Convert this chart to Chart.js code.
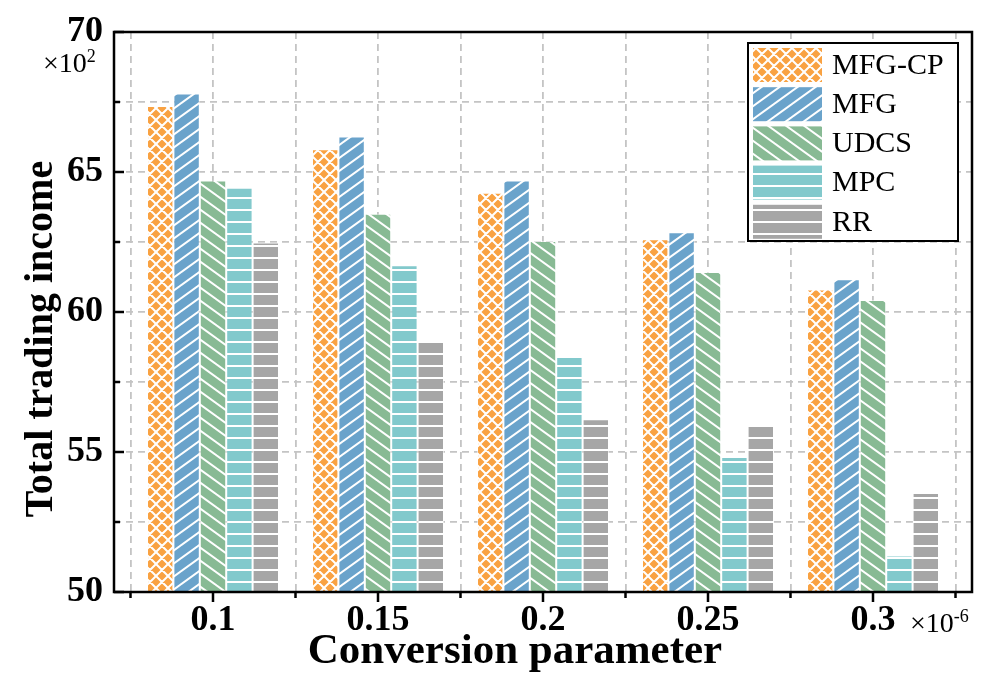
<!DOCTYPE html>
<html>
<head>
<meta charset="utf-8">
<script src="https://cdn.jsdelivr.net/npm/chart.js@4"></script>
<style>
  body { margin: 0; background: #fff; }
</style>
</head>
<body>
<canvas id="chart" width="986" height="678"></canvas>
<script>
const categories = ["0.1", "0.15", "0.2", "0.25", "0.3"];
const seriesNames = ["MFG-CP", "MFG", "UDCS", "MPC", "RR"];
const mfgcp = [67.36, 65.81, 64.26, 62.60, 60.80];
const mfg = [67.80, 66.27, 64.70, 62.85, 61.17];
const udcs = [64.70, 63.51, 62.54, 61.43, 60.43];
const mpc = [64.44, 61.67, 58.39, 54.82, 51.30];
const rr = [62.48, 58.96, 56.17, 55.95, 53.54];
const yTicks = [50, 55, 60, 65, 70];

const colors = ["#f9a242", "#6aa3cb", "#88ba94", "#82c9cc", "#a6a6a6"];
const kinds = ["cross", "fwd", "back", "horiz", "horiz"];
const serif = '"Liberation Serif", "Times New Roman", serif';

let ctx = document.getElementById("chart").getContext("2d");

function makePattern(color, kind) {
    let c = document.createElement("canvas");
    let w = 12, h = 12;
    if (kind == "fwd" || kind == "back") { w = 18; h = 13; }
    c.width = w; c.height = h;
    let g = c.getContext("2d");
    g.fillStyle = color;
    g.fillRect(0, 0, w, h);
    g.strokeStyle = "#fff";
    g.lineWidth = 2;
    g.beginPath();
    if (kind == "cross" || kind == "fwd") {
        for (let k = -1; k <= 1; k++) {
            g.moveTo(-1 + k * w, h + h / w);
            g.lineTo(w + 1 + k * w, -h / w);
        }
    }
    if (kind == "cross" || kind == "back") {
        for (let k = -1; k <= 1; k++) {
            g.moveTo(-1 + k * w, -h / w);
            g.lineTo(w + 1 + k * w, h + h / w);
        }
    }
    if (kind == "horiz") {
        g.moveTo(0, h / 2);
        g.lineTo(w, h / 2);
    }
    g.stroke();
    return ctx.createPattern(c, "repeat");
}

const patterns = colors.map((c, i) => makePattern(c, kinds[i]));
const allSeries = [mfgcp, mfg, udcs, mpc, rr];

const xTickValues = [];
for (let v = -0.5; v <= 4.5; v += 0.5) xTickValues.push(v);

function expLabel(c, base, sup, x, y) {
    c.font = "28px " + serif;
    c.fillText(base, x, y);
    let w = c.measureText(base).width;
    c.font = "18px " + serif;
    c.fillText(sup, x + w, y - 10);
}

// frame, inner ticks, titles, legend and exponent labels
const framePlugin = {
    id: "frame",
    afterDraw(chart) {
        const c = chart.ctx;
        const a = chart.chartArea;
        const xs = chart.scales.x, ys = chart.scales.y;
        c.save();
        c.strokeStyle = "#000";
        c.lineWidth = 2.5;
        c.strokeRect(a.left, a.top, a.right - a.left, a.bottom - a.top);
        c.beginPath();
        for (let v = 50; v <= 70; v += 2.5) {
            let y = ys.getPixelForValue(v);
            let len = (v % 5 == 0) ? 10 : 6;
            c.moveTo(a.left, y);
            c.lineTo(a.left + len, y);
        }
        xTickValues.forEach(v => {
            let x = xs.getPixelForValue(v);
            let len = Number.isInteger(v) ? 10 : 6;
            c.moveTo(x, a.bottom);
            c.lineTo(x, a.bottom + len);
        });
        c.stroke();

        // axis titles
        c.fillStyle = "#000";
        c.textAlign = "center";
        c.textBaseline = "middle";
        c.font = "bold 43px " + serif;
        c.fillText("Conversion parameter", 515, 652);
        c.save();
        c.translate(42, 339);
        c.rotate(-Math.PI / 2);
        c.font = "bold 40px " + serif;
        c.fillText("Total trading income", 0, 0);
        c.restore();

        // legend
        let lx = 748, ly = 43, lw = 210, lh = 198;
        c.fillStyle = "#fff";
        c.fillRect(lx, ly, lw, lh);
        c.lineWidth = 2;
        c.strokeRect(lx, ly, lw, lh);
        c.font = "30px " + serif;
        c.textAlign = "left";
        seriesNames.forEach((name, i) => {
            let sy = 48 + i * 39.2;
            c.fillStyle = patterns[i];
            c.fillRect(753, sy, 69, 34);
            c.fillStyle = "#000";
            c.fillText(name, 832, sy + 18);
        });

        // exponent labels
        c.fillStyle = "#000";
        c.textBaseline = "alphabetic";
        expLabel(c, "\u00d710", "2", 43, 72);
        expLabel(c, "\u00d710", "-6", 910, 632);
        c.restore();
    }
};

new Chart(ctx, {
    type: "bar",
    data: {
        datasets: allSeries.map((s, i) => ({
            label: seriesNames[i],
            data: s.map((v, j) => ({ x: j, y: v })),
            backgroundColor: patterns[i],
            borderColor: "rgba(255,255,255,0.55)",
            borderWidth: 1,
            // the bar ruler also counts the half-step ticks, so its unit is half a category
            categoryPercentage: 1.6,
            barPercentage: 1.0
        }))
    },
    options: {
        responsive: false,
        animation: false,
        layout: { padding: { top: 32, right: 14, left: 0, bottom: 0 } },
        plugins: { legend: { display: false }, tooltip: { enabled: false } },
        scales: {
            x: {
                type: "linear",
                min: -0.6,
                max: 4.6,
                offset: false,
                afterFit: s => { s.height = 86; },
                afterBuildTicks: s => { s.ticks = xTickValues.map(v => ({ value: v })); },
                grid: { offset: false, color: "#c4c4c4", lineWidth: 1.8, drawTicks: false },
                border: { display: false, dash: [7, 5] },
                ticks: {
                    autoSkip: false,
                    maxRotation: 0,
                    minRotation: 0,
                    padding: 11,
                    color: "#000",
                    font: { family: serif, size: 36, weight: "bold", lineHeight: 1 },
                    callback: v => Number.isInteger(v) ? categories[v] : ""
                }
            },
            y: {
                min: 50,
                max: 70,
                afterFit: s => { s.width = 114; },
                grid: { color: "#c4c4c4", lineWidth: 1.8, drawTicks: false },
                border: { display: false, dash: [7, 5] },
                ticks: {
                    stepSize: 2.5,
                    padding: 11,
                    color: "#000",
                    font: { family: serif, size: 36, weight: "bold", lineHeight: 1 },
                    callback: v => yTicks.includes(v) ? v : ""
                }
            }
        }
    },
    plugins: [framePlugin]
});
</script>
</body>
</html>
